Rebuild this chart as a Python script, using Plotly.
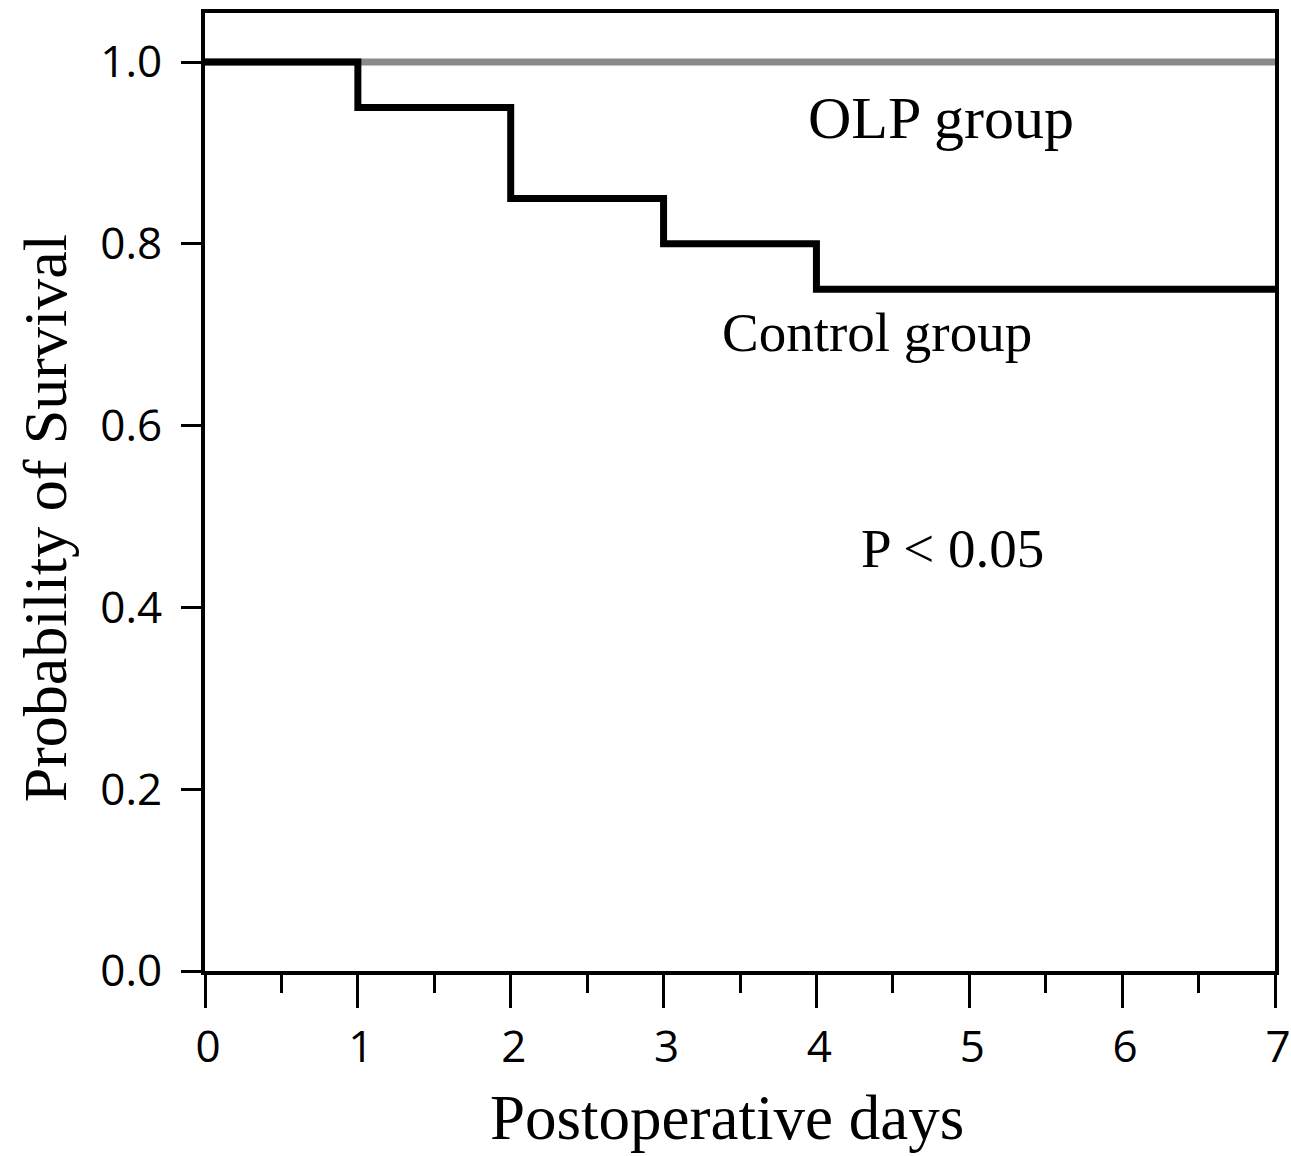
import plotly.graph_objects as go

# Data
days_control = [0, 1, 2, 3, 4, 7]
surv_control = [1.0, 0.95, 0.85, 0.80, 0.75, 0.75]
days_olp = [0, 7]
surv_olp = [1.0, 1.0]
x_ticks = [0, 1, 2, 3, 4, 5, 6, 7]
y_ticks = [0.0, 0.2, 0.4, 0.6, 0.8, 1.0]
y_tick_labels = ["0.0", "0.2", "0.4", "0.6", "0.8", "1.0"]

serif = "Liberation Serif, Times New Roman, serif"
sans = "Open Sans, Lato, sans-serif"

fig = go.Figure()
fig.add_trace(go.Scatter(x=days_olp, y=surv_olp, mode="lines",
                         line=dict(color="#8a8a8a", width=7, shape="hv"),
                         name="OLP group", showlegend=False))
fig.add_trace(go.Scatter(x=days_control, y=surv_control, mode="lines",
                         line=dict(color="#000000", width=7, shape="hv"),
                         name="Control group", showlegend=False))

fig.add_annotation(x=3.93, y=0.939, text="OLP group", showarrow=False,
                   xanchor="left", yanchor="middle",
                   font=dict(family=serif, size=60, color="black"))
fig.add_annotation(x=3.37, y=0.702, text="Control group", showarrow=False,
                   xanchor="left", yanchor="middle",
                   font=dict(family=serif, size=55, color="black"))
fig.add_annotation(x=4.28, y=0.465, text="P &lt; 0.05", showarrow=False,
                   xanchor="left", yanchor="middle",
                   font=dict(family=serif, size=55, color="black"))

# axis titles
fig.add_annotation(xref="paper", yref="paper", x=0.488, y=-0.153,
                   text="Postoperative days", showarrow=False,
                   xanchor="center", yanchor="middle",
                   font=dict(family=serif, size=63, color="black"))
fig.add_annotation(xref="paper", yref="paper", x=-0.150, y=0.472,
                   text="Probability of Survival", showarrow=False,
                   textangle=-90, xanchor="center", yanchor="middle",
                   font=dict(family=serif, size=62, color="black"))

fig.update_xaxes(range=[0, 7], tickvals=x_ticks, ticks="outside", ticklen=33,
                 tickwidth=3, tickcolor="black", showline=True, linewidth=4,
                 linecolor="black", mirror=True, showgrid=False, zeroline=False,
                 automargin=False,
                 ticklabelshift=3, ticklabelstandoff=1, ticklabeloverflow="allow",
                 tickfont=dict(family=sans, size=44, color="black"),
                 minor=dict(dtick=0.5, tick0=0, ticks="outside", ticklen=18,
                            tickwidth=3, tickcolor="black", showgrid=False))
fig.update_yaxes(range=[0, 1.054], tickvals=y_ticks, ticktext=y_tick_labels,
                 ticks="outside", ticklen=20, tickwidth=3, tickcolor="black",
                 showline=True, linewidth=4, linecolor="black", mirror=True,
                 showgrid=False, zeroline=False, ticklabelstandoff=10,
                 automargin=False,
                 tickfont=dict(family=sans, size=44, color="black"))

fig.update_layout(width=1291, height=1156, autosize=False,
                  margin=dict(l=205, r=16, t=13, b=185, autoexpand=False),
                  plot_bgcolor="white", paper_bgcolor="white",
                  showlegend=False)

fig.write_html("out.html", config={"displayModeBar": False},
               post_script="document.body.style.margin='0px';"
                           "document.documentElement.style.overflow='hidden';")
